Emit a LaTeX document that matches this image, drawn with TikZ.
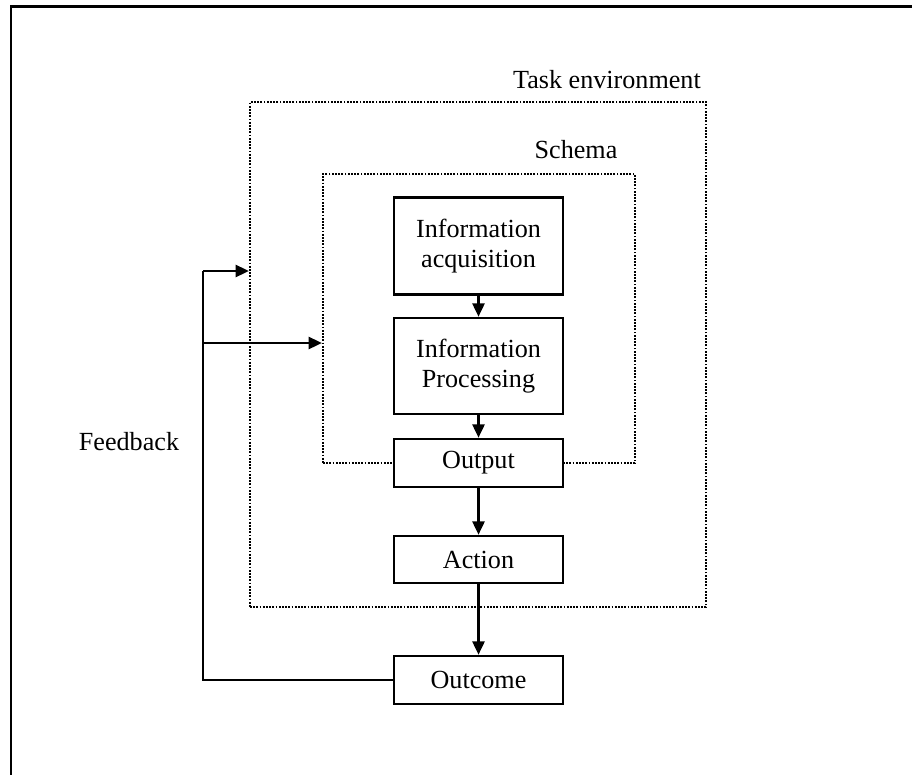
\documentclass[tikz,border=0pt]{standalone}
\usepackage{fontspec}
\setmainfont{Liberation Serif}
\usetikzlibrary{arrows.meta,calc}
\begin{document}
\begin{tikzpicture}[x=0.75pt,y=-0.75pt,
  every node/.style={font=\fontsize{19.6}{22.5}\selectfont},
  block/.style={draw,line width=1.9pt,fill=white,minimum width=126.75pt,inner sep=0pt,align=center},
  container/.style={draw,line width=1.6pt,dash pattern=on 1.4pt off 1.0pt,inner sep=0pt},
  link/.style={line width=1.9pt,-{Triangle[length=10pt,width=9pt]}},
  plain/.style={line width=1.9pt},
  lbl/.style={inner sep=0pt}]
\useasboundingbox (0,0) rectangle (912,774);
% frame
\draw[line width=2pt] (11,780) -- (11,6.5) -- (920,6.5);
% containers
\node[container,minimum width=342pt,minimum height=378.75pt] (env) at (478,354.5) {};
\node[container,minimum width=234pt,minimum height=216.75pt] (schema) at (479,318.5) {};
% labels
\node[lbl] (envlbl) at (607,80) {Task environment};
\node[lbl] (schemalbl) at (576,150) {Schema};
\node[lbl] (fblbl) at (129,442) {Feedback};
% blocks
\node[block,minimum height=72.75pt] (acq) at (478.5,246) {Information\\acquisition};
\node[block,minimum height=72pt] (proc) at (478.5,366) {Information\\Processing};
\node[block,minimum height=36pt] (out) at (478.5,463) {Output};
\node[block,minimum height=35.25pt] (act) at (478.5,559.5) {Action};
\node[block,minimum height=36pt] (outc) at (478.5,680) {Outcome};
% connectors
\draw[link] (acq) -- (proc);
\draw[link] (proc) -- (out);
\draw[link] (out) -- (act);
\draw[link] (act) -- (outc);
\coordinate (fbtop) at (203,271);
\coordinate (fbmid) at (203,343);
\draw[plain] (outc.west) -| (fbtop);
\draw[link] (fbtop) -- (fbtop -| env.west);
\draw[link] (fbmid) -- (fbmid -| schema.west);
\end{tikzpicture}
\end{document}
